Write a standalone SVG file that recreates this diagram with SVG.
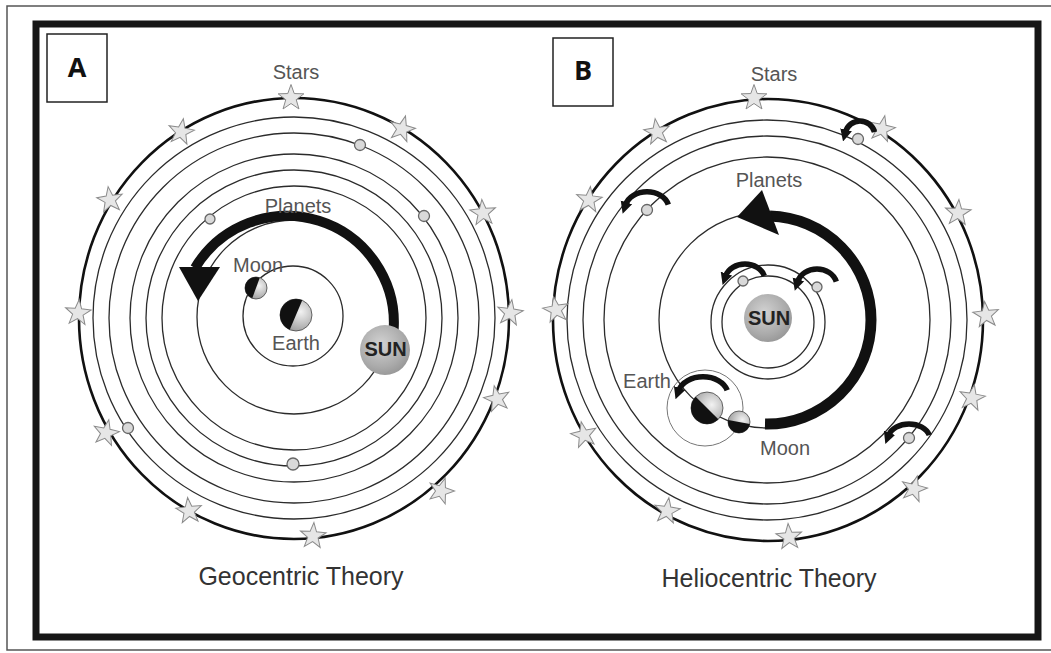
<svg xmlns="http://www.w3.org/2000/svg" width="1051" height="653" viewBox="0 0 1051 653">
  <defs>
    <style>
      .ring{fill:none;stroke:#2b2b2b;stroke-width:1.3}
      .outer{fill:none;stroke:#111;stroke-width:2.6}
      .thin{fill:none;stroke:#777;stroke-width:1}
      .lbl{font-family:"Liberation Sans",Arial,sans-serif;font-size:20px;fill:#555;text-anchor:middle}
      .title{font-family:"Liberation Sans",Arial,sans-serif;font-size:25px;fill:#333;text-anchor:middle}
      .sunt{font-family:"Liberation Sans",Arial,sans-serif;font-size:20px;font-weight:bold;fill:#222;text-anchor:middle}
      .tag{font-family:"Open Sans","Liberation Sans",sans-serif;font-size:27px;font-weight:bold;fill:#111;text-anchor:middle}
      .pl{fill:#d9d9d9;stroke:#666;stroke-width:1.3}
      .star{fill:#e6e6e6;stroke:#8a8a8a;stroke-width:1}
      .spin{fill:none;stroke:#111;stroke-width:5.5;marker-end:url(#tip)}
      .big{fill:none;stroke:#111;stroke-linecap:butt}
      .head{fill:#111}
      .dark{fill:#111}
      .body{stroke:#444;stroke-width:0.8}
    </style>
    <!-- five-pointed star, outer radius 13.5 -->
    <path id="star" class="star" d="M0,-13.5 L3.23,-4.45 L12.84,-4.17 L5.23,1.70 L7.94,10.92 L0,5.5 L-7.94,10.92 L-5.23,1.70 L-12.84,-4.17 L-3.23,-4.45 Z"/>
    <marker id="tip" viewBox="0 0 10 10" refX="2" refY="5" markerWidth="12" markerHeight="13" markerUnits="userSpaceOnUse" orient="auto">
      <path d="M0,0 L10,5 L0,10 Z" fill="#111"/>
    </marker>
    <radialGradient id="sunFill" cx="0.42" cy="0.38" r="0.65">
      <stop offset="0" stop-color="#d2d2d2"/>
      <stop offset="0.7" stop-color="#ababab"/>
      <stop offset="1" stop-color="#979797"/>
    </radialGradient>
    <radialGradient id="lit" cx="0.65" cy="0.4" r="0.6">
      <stop offset="0" stop-color="#f2f2f2"/>
      <stop offset="1" stop-color="#a5a5a5"/>
    </radialGradient>
  </defs>

  <!-- page -->
  <rect width="1051" height="653" fill="#fff"/>
  <path d="M1051,6 H7 V650 H1051" fill="none" stroke="#555" stroke-width="1.5"/>
  <rect x="36" y="24" width="1002" height="613" fill="#fff" stroke="#161616" stroke-width="7"/>

  <!-- ===== Panel A: geocentric model ===== -->
  <g id="panel-a">
    <g id="tag-a">
      <rect x="47" y="34" width="60" height="68" fill="#fff" stroke="#222" stroke-width="1.5"/>
      <text class="tag" x="77" y="77">A</text>
    </g>
    <g id="orbits-a">
      <ellipse class="outer" cx="294" cy="318.5" rx="215" ry="220.5"/>
      <circle class="ring" cx="294" cy="318" r="201"/>
      <circle class="ring" cx="294" cy="318" r="185"/>
      <circle class="ring" cx="294" cy="318" r="164"/>
      <circle class="ring" cx="294" cy="318" r="148"/>
      <circle class="ring" cx="294" cy="318" r="132"/>
      <circle class="ring" cx="294" cy="317" r="97"/>
      <circle class="ring" cx="293" cy="316" r="50"/>
    </g>
    <g id="planets-a">
      <circle class="pl" cx="360" cy="145" r="5.5"/>
      <circle class="pl" cx="210" cy="219" r="5"/>
      <circle class="pl" cx="424" cy="216" r="5.5"/>
      <circle class="pl" cx="128" cy="428" r="5.5"/>
      <circle class="pl" cx="293" cy="464" r="6"/>
    </g>
    <g id="earth-a" transform="translate(296,315)">
      <circle class="body" r="16" fill="url(#lit)"/>
      <path class="dark" transform="rotate(23)" d="M0,-16 A16,16 0 0 0 0,16 Z"/>
    </g>
    <g id="moon-a" transform="translate(256,288)">
      <circle class="body" r="11" fill="url(#lit)"/>
      <path class="dark" transform="rotate(20)" d="M0,-11 A11,11 0 0 0 0,11 Z"/>
    </g>
    <g id="stars-a">
      <use href="#star" transform="translate(291,98)"/>
      <use href="#star" transform="translate(181,132) rotate(10)"/>
      <use href="#star" transform="translate(110,200) rotate(-8)"/>
      <use href="#star" transform="translate(78,313) rotate(5)"/>
      <use href="#star" transform="translate(402,129) rotate(15)"/>
      <use href="#star" transform="translate(483,213) rotate(-5)"/>
      <use href="#star" transform="translate(510,313) rotate(8)"/>
      <use href="#star" transform="translate(497,399) rotate(-12)"/>
      <use href="#star" transform="translate(106,433) rotate(12)"/>
      <use href="#star" transform="translate(189,511) rotate(-6)"/>
      <use href="#star" transform="translate(313,536) rotate(4)"/>
      <use href="#star" transform="translate(441,491) rotate(18)"/>
    </g>
  </g>

  <!-- ===== Panel B: heliocentric model ===== -->
  <g id="panel-b">
    <g id="tag-b">
      <rect x="553" y="38" width="60" height="68" fill="#fff" stroke="#222" stroke-width="1.5"/>
      <text class="tag" x="583" y="80">B</text>
    </g>
    <g id="orbits-b">
      <ellipse class="outer" cx="768" cy="320" rx="215" ry="221"/>
      <circle class="ring" cx="767" cy="320" r="200"/>
      <circle class="ring" cx="767" cy="320" r="184"/>
      <circle class="ring" cx="767" cy="320" r="163"/>
      <circle class="ring" cx="767" cy="320" r="108"/>
      <circle class="ring" cx="768" cy="322" r="57"/>
      <circle class="ring" cx="768" cy="322" r="46"/>
      <circle class="thin" cx="705" cy="408" r="38"/>
    </g>
    <g id="planets-b">
      <circle class="pl" cx="858" cy="139" r="5.5"/>
      <circle class="pl" cx="647" cy="210" r="5.5"/>
      <circle class="pl" cx="743" cy="281" r="5"/>
      <circle class="pl" cx="817" cy="287" r="5"/>
      <circle class="pl" cx="909" cy="438" r="5.5"/>
    </g>
    <g id="stars-b">
      <use href="#star" transform="translate(754,98)"/>
      <use href="#star" transform="translate(657,132) rotate(-8)"/>
      <use href="#star" transform="translate(589,200) rotate(6)"/>
      <use href="#star" transform="translate(556,310) rotate(-10)"/>
      <use href="#star" transform="translate(882,129) rotate(12)"/>
      <use href="#star" transform="translate(958,213) rotate(4)"/>
      <use href="#star" transform="translate(986,315) rotate(-6)"/>
      <use href="#star" transform="translate(972,398) rotate(10)"/>
      <use href="#star" transform="translate(584,435) rotate(-12)"/>
      <use href="#star" transform="translate(667,511) rotate(8)"/>
      <use href="#star" transform="translate(789,537) rotate(-4)"/>
      <use href="#star" transform="translate(914,489) rotate(14)"/>
    </g>
  </g>

  <!-- motion arrows -->
  <g id="connectors">
    <!-- panel A: sweep of the sky around the Earth -->
    <path class="big" stroke-width="10" d="M393.6,330.3 A107,107 0 0 0 195,268"/>
    <polygon class="head" points="179,267 220,267 198,301"/>
    <!-- panel B: Earth's orbit around the Sun -->
    <path class="big" stroke-width="11" d="M765,424 A104,104 0 0 0 871,320 A104,104 0 0 0 770,216"/>
    <polygon class="head" points="737,217 762,190 779,235"/>
    <!-- panel B: spin arrows over each body -->
    <path class="spin" d="M874.5,132.1 A15,15 0 0 0 845.5,132.1"/>
    <path class="spin" d="M668.3,204.6 A22,17 0 0 0 625.7,204.6"/>
    <path class="spin" d="M764.3,275.9 A20,16 0 0 0 725.7,275.9"/>
    <path class="spin" d="M836.3,281.6 A20,17 0 0 0 797.7,281.6"/>
    <path class="spin" d="M727.2,390.3 A25,18 0 0 0 678.8,390.3"/>
    <path class="spin" d="M929.3,435.1 A21,15 0 0 0 888.7,435.1"/>
  </g>

  <!-- bodies drawn over the arrows -->
  <g id="sun-a">
    <circle cx="385" cy="350" r="25" fill="url(#sunFill)"/>
    <text class="sunt" x="385.5" y="356">SUN</text>
  </g>
  <g id="sun-b">
    <circle cx="768" cy="318" r="24" fill="url(#sunFill)"/>
    <text class="sunt" x="769" y="325">SUN</text>
  </g>
  <g id="earth-b" transform="translate(707,408)">
    <circle class="body" r="16" fill="url(#lit)"/>
    <path class="dark" transform="rotate(-45)" d="M0,-16 A16,16 0 0 0 0,16 Z"/>
  </g>
  <g id="moon-b" transform="translate(739,422)">
    <circle class="body" r="11" fill="url(#lit)"/>
    <path class="dark" transform="rotate(-80)" d="M0,-11 A11,11 0 0 0 0,11 Z"/>
  </g>

  <!-- labels -->
  <g id="labels-a">
    <text class="lbl" x="296" y="79">Stars</text>
    <text class="lbl" x="298" y="213">Planets</text>
    <text class="lbl" x="258" y="272">Moon</text>
    <text class="lbl" x="296" y="350">Earth</text>
    <text class="title" x="301" y="585">Geocentric Theory</text>
  </g>
  <g id="labels-b">
    <text class="lbl" x="774" y="81">Stars</text>
    <text class="lbl" x="769" y="187">Planets</text>
    <text class="lbl" x="647" y="388">Earth</text>
    <text class="lbl" x="785" y="455">Moon</text>
    <text class="title" x="769" y="587">Heliocentric Theory</text>
  </g>
</svg>
